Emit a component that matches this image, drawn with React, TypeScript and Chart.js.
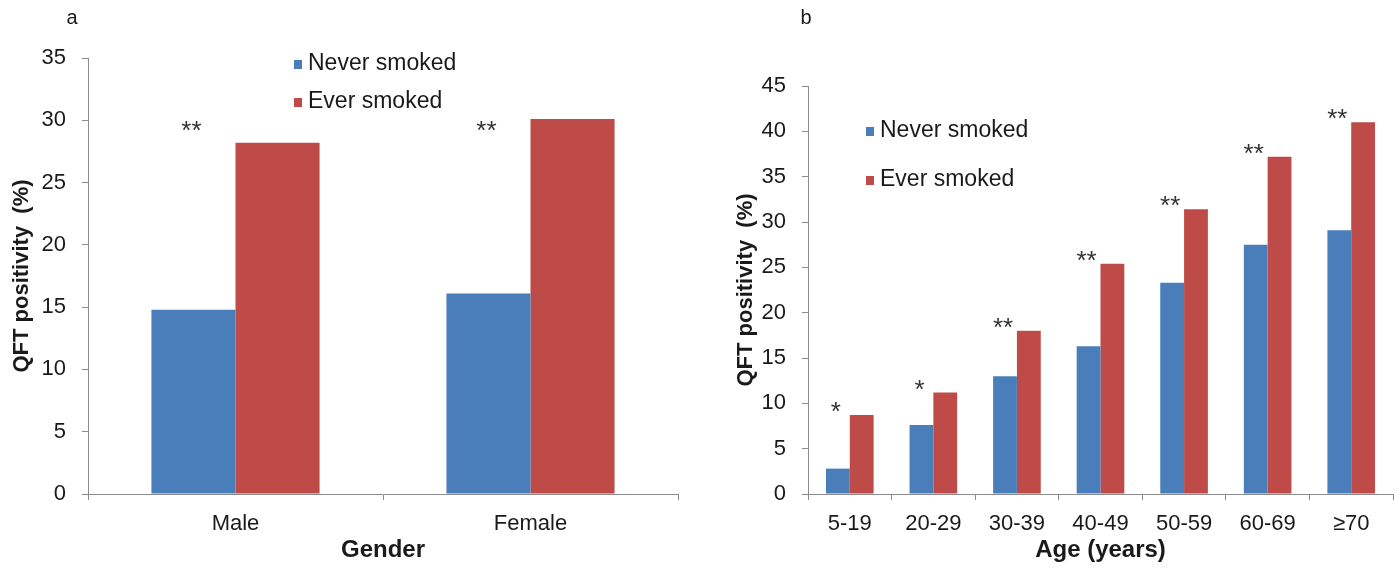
import React, { useEffect, useRef } from "react";
import { Chart, registerables } from "chart.js";

Chart.register(...registerables);

// ---------- data ----------
const seriesLabels = ["Never smoked", "Ever smoked"];

const genderCategories = ["Male", "Female"];
const genderNever = [14.8, 16.1];
const genderEver = [28.2, 30.1];
const genderStars = ["**", "**"];

const ageCategories = ["5-19", "20-29", "30-39", "40-49", "50-59", "60-69", "≥70"];
const ageNever = [2.8, 7.6, 13.0, 16.3, 23.3, 27.5, 29.1];
const ageEver = [8.7, 11.2, 18.0, 25.4, 31.4, 37.2, 41.0];
const ageStars = ["*", "*", "**", "**", "**", "**", "**"];

const BLUE = "#4A7EBB";
const RED = "#BE4B48";
const AXIS = "#8c8c8c";
const TEXT = "#1a1a1a";
const SANS = "'Liberation Sans', Arial, sans-serif";

type Panel = {
  letter: string;
  letterX: number;
  categories: string[];
  never: number[];
  ever: number[];
  stars: string[];
  yMax: number;
  xTitle: string;
  width: number;
  padTop: number;
  padRight: number;
  yAxisWidth: number;
  yTitleX: number;
  legendX: number;
  legendY: number[];
  starLevel: number | null;
  tickSize: number;
};

const decorPlugin = {
  id: "decor",
  afterDraw(chart: any, _args: any, opts: any) {
    const p: Panel = opts.panel;
    const ctx = chart.ctx;
    const { left, right, top, bottom } = chart.chartArea;
    ctx.save();
    // panel letter
    ctx.fillStyle = TEXT;
    ctx.font = `20px ${SANS}`;
    ctx.textAlign = "center";
    ctx.textBaseline = "middle";
    ctx.fillText(p.letter, p.letterX, 18);

    // y title
    ctx.save();
    ctx.translate(p.yTitleX, (top + bottom) / 2);
    ctx.rotate(-Math.PI / 2);
    ctx.font = `bold 22px ${SANS}`;
    ctx.textAlign = "center";
    ctx.textBaseline = "middle";
    ctx.fillText("QFT positivity  (%)", 0, 0);
    ctx.restore();

    // x title
    ctx.font = `bold 24px ${SANS}`;
    ctx.textAlign = "center";
    ctx.textBaseline = "middle";
    ctx.fillText(p.xTitle, (left + right) / 2, 550);

    // legend
    const colors = [BLUE, RED];
    ctx.font = `23px ${SANS}`;
    ctx.textAlign = "left";
    ctx.textBaseline = "middle";
    seriesLabels.forEach((lab, i) => {
      const y = p.legendY[i];
      ctx.fillStyle = colors[i];
      ctx.fillRect(p.legendX, y - 4, 8, 9);
      ctx.fillStyle = TEXT;
      ctx.fillText(lab, p.legendX + 14, y);
    });

    // significance stars
    const m0 = chart.getDatasetMeta(0);
    const m1 = chart.getDatasetMeta(1);
    ctx.font = `26px ${SANS}`;
    ctx.fillStyle = "#333";
    ctx.textAlign = "center";
    ctx.textBaseline = "top";
    p.stars.forEach((s, i) => {
      const x = m0.data[i].x - 2;
      const y =
        p.starLevel !== null
          ? chart.scales.y.getPixelForValue(p.starLevel) - 8
          : m1.data[i].y - 15;
      ctx.fillText(s, x, y);
    });
    ctx.restore();
  },
};

function PanelChart({ p }: { p: Panel }) {
  const ref = useRef<HTMLCanvasElement | null>(null);
  useEffect(() => {
    if (!ref.current) return;
    const chart = new Chart(ref.current, {
      type: "bar",
      data: {
        labels: p.categories,
        datasets: [
          { label: seriesLabels[0], data: p.never, backgroundColor: BLUE, categoryPercentage: 0.57, barPercentage: 1 },
          { label: seriesLabels[1], data: p.ever, backgroundColor: RED, categoryPercentage: 0.57, barPercentage: 1 },
        ],
      },
      options: {
        responsive: false,
        animation: false,
        devicePixelRatio: 1,
        layout: { padding: { left: 0, right: p.padRight, top: p.padTop, bottom: 0 } },
        plugins: {
          legend: { display: false },
          tooltip: { enabled: false },
          decor: { panel: p },
        } as any,
        scales: {
          x: {
            offset: true,
            ticks: { font: { family: SANS, size: p.tickSize }, color: TEXT, padding: 11 },
            grid: { offset: true, drawOnChartArea: false, drawTicks: true, tickLength: 6, color: AXIS },
            border: { color: AXIS, width: 1 },
            afterFit: (s: any) => {
              s.height = 77;
            },
          },
          y: {
            min: 0,
            max: p.yMax,
            ticks: { stepSize: 5, font: { family: SANS, size: p.tickSize }, color: TEXT, padding: 16 },
            grid: { drawOnChartArea: false, drawTicks: true, tickLength: 6, color: AXIS },
            border: { color: AXIS, width: 1 },
            afterFit: (s: any) => {
              s.width = p.yAxisWidth;
            },
          },
        },
      },
      plugins: [decorPlugin],
    });
    return () => chart.destroy();
  }, [p]);
  return <canvas ref={ref} width={p.width} height={571} style={{ display: "block" }} />;
}

const panelA: Panel = {
  letter: "a",
  letterX: 72,
  categories: genderCategories,
  never: genderNever,
  ever: genderEver,
  stars: genderStars,
  yMax: 35,
  xTitle: "Gender",
  width: 690,
  padTop: 58,
  padRight: 12,
  yAxisWidth: 88,
  yTitleX: 22,
  legendX: 294,
  legendY: [64, 102],
  starLevel: 29.5,
  tickSize: 22,
};

const panelB: Panel = {
  letter: "b",
  letterX: 106,
  categories: ageCategories,
  never: ageNever,
  ever: ageEver,
  stars: ageStars,
  yMax: 45,
  xTitle: "Age (years)",
  width: 699,
  padTop: 86,
  padRight: 6,
  yAxisWidth: 108,
  yTitleX: 46,
  legendX: 166,
  legendY: [131, 180],
  starLevel: null,
  tickSize: 22,
};

export default function App() {
  return (
    <div style={{ position: "absolute", left: 0, top: 0, width: 1399, height: 571, background: "#fff" }}>
      <div style={{ position: "absolute", left: 0, top: 0 }}>
        <PanelChart p={panelA} />
      </div>
      <div style={{ position: "absolute", left: 700, top: 0 }}>
        <PanelChart p={panelB} />
      </div>
    </div>
  );
}
